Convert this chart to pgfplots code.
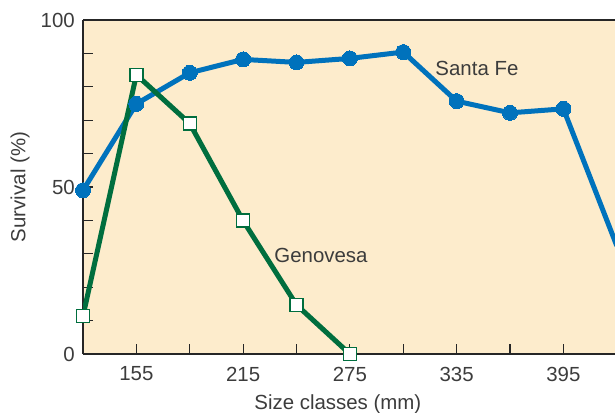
\documentclass[border=0pt]{standalone}
\usepackage{pgfplots}
\pgfplotsset{compat=1.18}
\usepackage{fontspec}
\setmainfont{Liberation Sans}
\definecolor{peach}{RGB}{253,236,204}
\definecolor{sfblue}{RGB}{0,114,188}
\definecolor{gngreen}{RGB}{0,110,62}
\definecolor{txt}{RGB}{60,60,60}
\newcommand{\ff}{\fontsize{20.5}{24}\selectfont}
\begin{document}
\begin{tikzpicture}
\useasboundingbox (0,0) rectangle (615bp,413bp);
\begin{axis}[
  at={(83bp,59bp)}, anchor=south west,
  scale only axis, width=532bp, height=334bp,
  xmin=125, xmax=424, ymin=0, ymax=100,
  clip mode=global,
  axis background/.style={fill=peach},
  axis x line=box, axis y line=left,
  axis line style={-, line width=1.2bp, black!85},
  xtick={155,185,...,395},
  xticklabels={155,,215,,275,,335,,395},
  ytick={0,10,...,100},
  yticklabels={0,,,,,50,,,,,100},
  xtick pos=bottom,
  tick align=inside,
  major tick length=10bp,
  every tick/.style={black!85, line width=1.2bp},
  /pgf/number format/assume math mode=true,
  xticklabel style={font=\ff, text=txt, anchor=center, inner sep=0pt, yshift=-20bp},
  yticklabel style={font=\ff, text=txt, anchor=east, inner sep=0pt, xshift=-8bp},
  xlabel={Size classes (mm)},
  ylabel={Survival (\%)},
  xlabel style={font=\ff, text=txt, at={(axis description cs:0.479,0)}, anchor=center, yshift=-50bp},
  ylabel style={font=\ff, text=txt, at={(axis description cs:0,0.5)}, anchor=center, yshift=63bp},
]
\addplot[sfblue, line width=5bp, mark=*, mark size=7.5bp, mark options={fill=sfblue, draw=sfblue, line width=0pt}]
  coordinates {(125,49) (155,74.9) (185,84.2) (215,88.2) (245,87.3) (275,88.5) (305,90.4) (335,75.7) (365,72.2) (395,73.4) (425,32.4)};
\addplot[gngreen, line width=5bp, mark=square*, mark size=6.5bp, mark options={fill=white, draw=gngreen, line width=1.5bp}]
  coordinates {(125,11.4) (155,83.6) (185,69.0) (215,39.9) (245,14.7) (275,0)};
\node[anchor=west, font=\ff, text=txt, inner sep=0pt] at (axis cs:323,85.6) {Santa Fe};
\node[anchor=west, font=\ff, text=txt, inner sep=0pt] at (axis cs:232.5,29.6) {Genovesa};
\end{axis}
\end{tikzpicture}
\end{document}
